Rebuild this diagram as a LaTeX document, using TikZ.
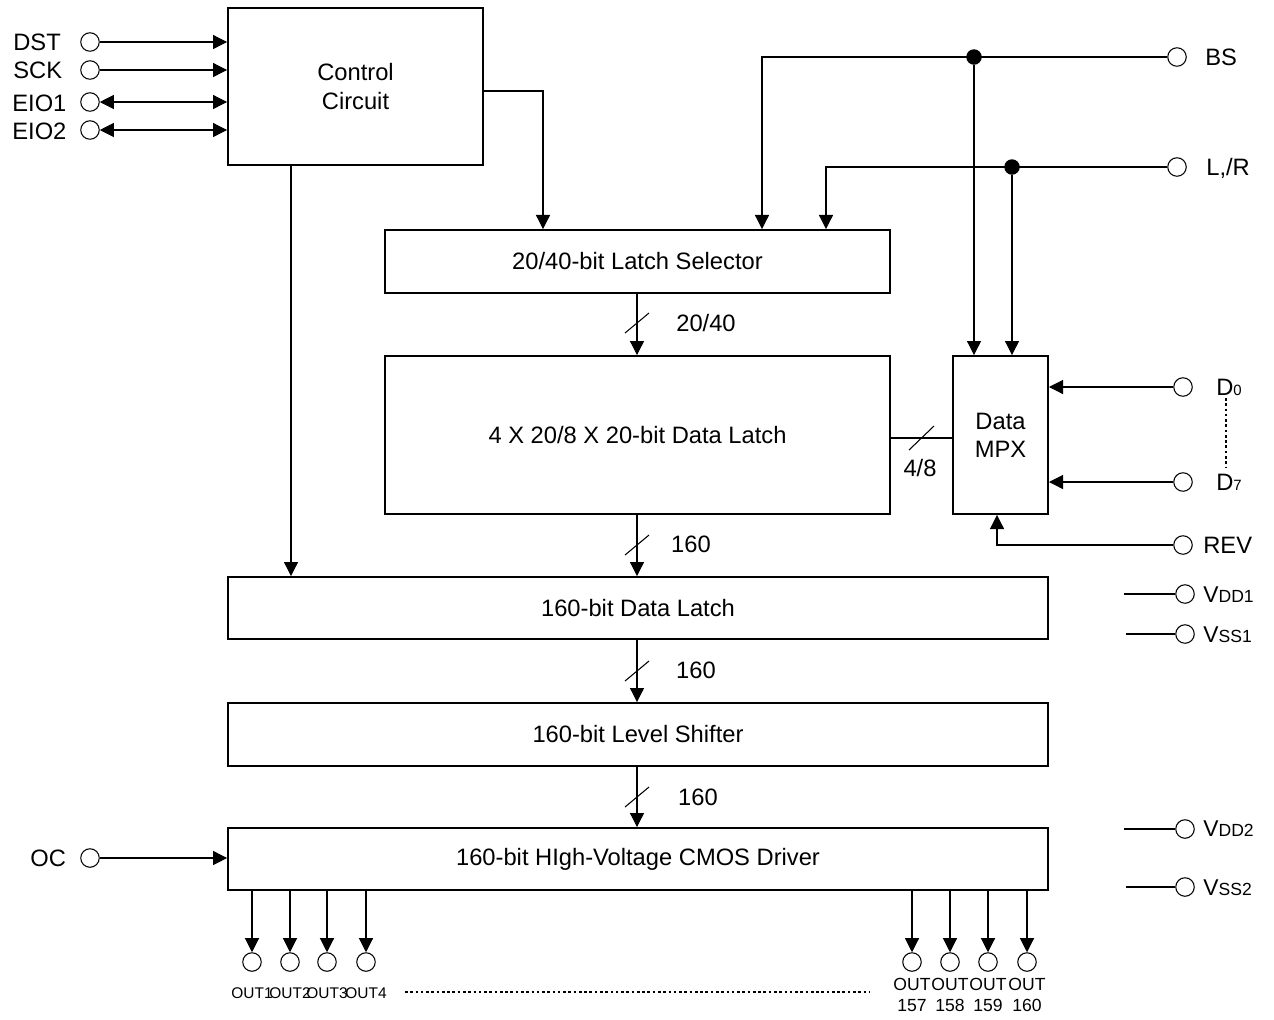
\documentclass[tikz,border=0pt]{standalone}
\usepackage{fontspec}
\setmainfont{Liberation Sans}
\usetikzlibrary{arrows.meta}
\newcommand{\subsz}[1]{{\fontsize{8.5}{10}\selectfont #1}}
\newcommand{\vsub}[1]{{\fontsize{10}{11}\selectfont #1}}
\begin{document}
\begin{tikzpicture}[x=0.02cm,y=-0.02cm,
  blk/.style={draw,line width=1.1pt,inner sep=0pt,align=center,font=\fontsize{13.5}{16}\selectfont},
  pin/.style={circle,draw,line width=0.6pt,minimum size=0.37cm,inner sep=0pt},
  lbl/.style={font=\fontsize{13.5}{16}\selectfont,inner sep=0pt},
  vlbl/.style={font=\fontsize{13}{14}\selectfont,inner sep=0pt,anchor=west},
  small/.style={font=\fontsize{8.8}{10}\selectfont,inner sep=0pt},
  outl/.style={font=\fontsize{10}{11.5}\selectfont,inner sep=0pt,align=center},
  con/.style={line width=0.6pt},
  arr/.style={con,-{Triangle[length=8pt,width=8pt]}},
  darr/.style={con,{Triangle[length=8pt,width=8pt]}-{Triangle[length=8pt,width=8pt]}},
  dot/.style={fill,circle,inner sep=0pt,minimum size=0.31cm},
  dotl/.style={con,dash pattern=on 1.5pt off 1.5pt},
]
\useasboundingbox (0,0) rectangle (1274,1019);

% blocks
\node[blk,minimum width=5.1cm,minimum height=3.14cm] (cc) at (355.5,86.5) {Control\\Circuit};
\node[blk,minimum width=10.1cm,minimum height=1.26cm] (ls) at (637.5,261.5) {20/40-bit Latch Selector};
\node[blk,minimum width=10.1cm,minimum height=3.16cm] (dl4) at (637.5,435) {4 X 20/8 X 20-bit Data Latch};
\node[blk,minimum width=1.9cm,minimum height=3.16cm] (mpx) at (1000.5,435) {Data\\MPX};
\node[blk,minimum width=16.4cm,minimum height=1.24cm] (dl) at (638,608) {160-bit Data Latch};
\node[blk,minimum width=16.4cm,minimum height=1.26cm] (lsh) at (638,734.5) {160-bit Level Shifter};
\node[blk,minimum width=16.4cm,minimum height=1.24cm] (drv) at (638,859) {160-bit HIgh-Voltage CMOS Driver};

% left pins
\node[pin] (dst) at (90,42) {};
\node[pin] (sck) at (90,70) {};
\node[pin] (eio1) at (90,102) {};
\node[pin] (eio2) at (90,130) {};
\node[pin] (oc) at (90,858) {};
\node[lbl,anchor=west] (dstl) at (13,42) {DST};
\node[lbl,anchor=west] (sckl) at (13,70) {SCK};
\node[lbl,anchor=west] (eio1l) at (12,103) {EIO1};
\node[lbl,anchor=west] (eio2l) at (12,131) {EIO2};
\node[lbl,anchor=west] (ocl) at (30,858) {OC};
\draw[arr] (dst) -- (dst -| cc.west);
\draw[arr] (sck) -- (sck -| cc.west);
\draw[darr] (eio1) -- (eio1 -| cc.west);
\draw[darr] (eio2) -- (eio2 -| cc.west);
\draw[arr] (oc) -- (oc -| drv.west);

% control outputs
\coordinate (c1) at (543,91);
\draw[arr] (cc.east |- c1) -- (c1) -- (c1 |- ls.north);
\coordinate (c2) at (291,0);
\draw[arr] (cc.south -| c2) -- (c2 |- dl.north);

% right pins
\node[pin] (bs) at (1177,57) {};
\node[lbl,anchor=west] (bsl) at (1205,57) {BS};
\node[pin] (lr) at (1177,167) {};
\node[lbl,anchor=west] (lrl) at (1206,168) {L,/R};
\node[pin] (d0) at (1183,387) {};
\node[lbl,anchor=west] (d0l) at (1216,387) {D\subsz{0}};
\node[pin] (d7) at (1183,482) {};
\node[lbl,anchor=west] (d7l) at (1216,482) {D\subsz{7}};
\node[pin] (rev) at (1183,545) {};
\node[lbl,anchor=west] (revl) at (1203,545) {REV};
\draw[dotl] (1226,398) -- (1226,468);

\node[dot] (j1) at (974,57) {};
\node[dot] (j2) at (1012,167) {};
\coordinate (b1) at (762,57);
\coordinate (b2) at (826,167);
\draw[arr] (bs) -- (b1) -- (b1 |- ls.north);
\draw[arr] (lr) -- (b2) -- (b2 |- ls.north);
\draw[arr] (j1) -- (j1 |- mpx.north);
\draw[arr] (j2) -- (j2 |- mpx.north);
\draw[arr] (d0) -- (d0 -| mpx.east);
\draw[arr] (d7) -- (d7 -| mpx.east);
\coordinate (r1) at (997,545);
\draw[arr] (rev) -- (r1) -- (r1 |- mpx.south);

% supply pins
\node[pin] (vdd1) at (1185,594) {};
\node[pin] (vss1) at (1185,634) {};
\node[pin] (vdd2) at (1185,829) {};
\node[pin] (vss2) at (1185,887) {};
\coordinate (p1) at (1124,594);
\coordinate (p2) at (1126,634);
\coordinate (p3) at (1124,829);
\coordinate (p4) at (1126,887);
\draw[con] (p1) -- (vdd1);
\draw[con] (p2) -- (vss1);
\draw[con] (p3) -- (vdd2);
\draw[con] (p4) -- (vss2);
\node[vlbl] (vdd1l) at (1203,595) {V\vsub{DD1}};
\node[vlbl] (vss1l) at (1203,635) {V\vsub{SS1}};
\node[vlbl] (vdd2l) at (1203,829) {V\vsub{DD2}};
\node[vlbl] (vss2l) at (1203,888) {V\vsub{SS2}};

% buses
\coordinate (s1) at (637,323);
\draw[arr] (ls.south -| s1) -- (s1 |- dl4.north);
\draw[con] (s1) ++(-12,10) -- ++(24,-20);
\node[lbl] (s1l) at (706,323) {20/40};
\coordinate (s2) at (637,545);
\draw[arr] (dl4.south -| s2) -- (s2 |- dl.north);
\draw[con] (s2) ++(-12,10) -- ++(24,-20);
\node[lbl] (s2l) at (691,544) {160};
\coordinate (s3) at (637,671);
\draw[arr] (dl.south -| s3) -- (s3 |- lsh.north);
\draw[con] (s3) ++(-12,10) -- ++(24,-20);
\node[lbl] (s3l) at (696,670) {160};
\coordinate (s4) at (637,797);
\draw[arr] (lsh.south -| s4) -- (s4 |- drv.north);
\draw[con] (s4) ++(-12,10) -- ++(24,-20);
\node[lbl] (s4l) at (698,797) {160};
\coordinate (s5) at (921,438);
\draw[con] (dl4.east |- s5) -- (s5 -| mpx.west);
\draw[con] (s5) ++(-12,12) -- ++(25,-24);
\node[lbl] (s5l) at (920,468) {4/8};

% outputs
\foreach \n/\x in {1/252,2/290,3/327,4/366}{
  \node[pin] (o\n) at (\x,962) {};
  \draw[arr] (drv.south -| o\n) -- (o\n);
  \node[small] (o\n l) at (\x,993) {OUT\n};
}
\foreach \n/\x in {157/912,158/950,159/988,160/1027}{
  \node[pin] (o\n) at (\x,962) {};
  \draw[arr] (drv.south -| o\n) -- (o\n);
  \node[outl] (o\n l) at (\x,995) {OUT\\\n};
}
\coordinate (da) at (405,992);
\coordinate (db) at (870,992);
\draw[dotl] (da) -- (db);
\end{tikzpicture}
\end{document}
